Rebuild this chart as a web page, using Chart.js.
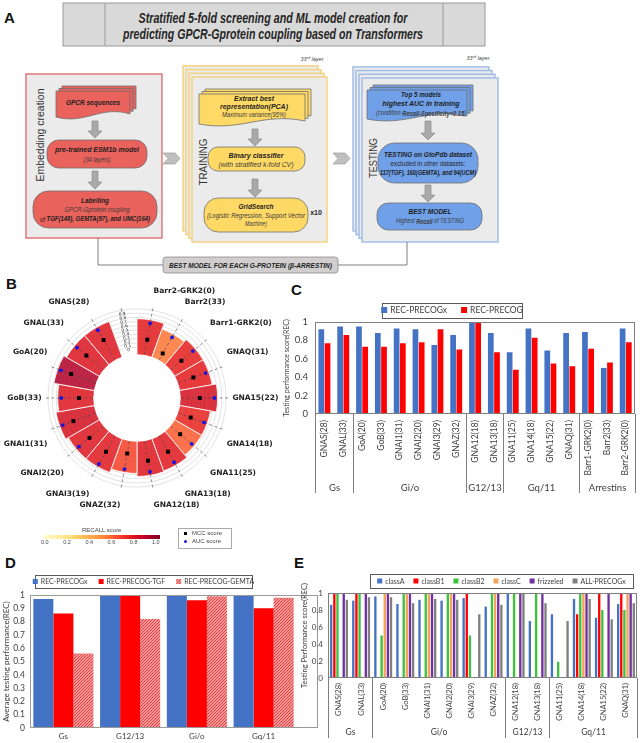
<!DOCTYPE html>
<html>
<head>
<meta charset="utf-8">
<script src="https://cdn.jsdelivr.net/npm/chart.js@4.4.0/dist/chart.umd.min.js"></script>
<style>
  body { margin: 0; width: 642px; height: 743px; position: relative; background: #fff; overflow: hidden;
         font-family: 'Liberation Sans', Arial, sans-serif; }
  canvas { position: absolute; }
  .panel { position: absolute; font-weight: bold; font-size: 15px; color: #111; }
  .small { position: absolute; font-family: 'Liberation Sans', Arial, sans-serif; color: #444; white-space: nowrap; }
</style>
</head>
<body>
<svg id="panelA" width="642" height="280" style="position:absolute;left:0;top:0"></svg>

<div class="panel" style="left:4px;top:9px">A</div>
<div class="panel" style="left:6px;top:275px">B</div>
<div class="panel" style="left:291px;top:281px">C</div>
<div class="panel" style="left:5px;top:554px">D</div>
<div class="panel" style="left:294px;top:554px">E</div>

<canvas id="polarBars" width="340" height="242" style="left:-33px;top:278px"></canvas>
<canvas id="polarDots" width="340" height="242" style="left:-33px;top:278px"></canvas>

<!-- colour bar + marker legend of panel B -->
<div class="small" style="left:82px;top:527px;font-size:6px">RECALL score</div>
<div id="cbar" style="position:absolute;left:44px;top:535px;width:116px;height:4px"></div>
<div id="cbarTicks"></div>
<div style="position:absolute;left:178px;top:528px;width:52px;height:19px;border:1px solid #aaa"></div>
<div style="position:absolute;left:184px;top:532px;width:3px;height:3px;background:#000"></div>
<div class="small" style="left:192px;top:530px;font-size:6px">MCC score</div>
<div style="position:absolute;left:184px;top:540px;width:3px;height:3px;border-radius:50%;background:#1515e0"></div>
<div class="small" style="left:192px;top:538px;font-size:6px">AUC score</div>

<canvas id="chartC" width="364" height="212" style="left:278px;top:296px"></canvas>
<canvas id="chartD" width="320" height="181" style="left:0px;top:562px"></canvas>
<canvas id="chartE" width="342" height="181" style="left:300px;top:562px"></canvas>

<script>
// ---------------- data ----------------
// B: radial bar plot, clockwise from the empty slot at the top
const labelsB = ['', 'Barr2-GRK2(0)', 'Barr2(33)', 'Barr1-GRK2(0)', 'GNAQ(31)', 'GNA15(22)', 'GNA14(18)',
  'GNA11(25)', 'GNA13(18)', 'GNA12(18)', 'GNAZ(32)', 'GNAI3(19)', 'GNAI2(20)', 'GNAI1(31)', 'GoB(33)',
  'GoA(20)', 'GNAL(33)', 'GNAS(28)'];
const barB    = [null, 0.67, 0.53, 0.60, 0.60, 0.70, 0.56, 0.56, 0.63, 0.65, 0.58, 0.67, 0.67, 0.74, 0.67, 0.79, 0.72, 0.72];
const mccB    = [null, 0.26, 0.07, 0.23, 0.28, 0.35, 0.21, 0.19, 0.33, 0.37, 0.19, 0.33, 0.33, 0.47, 0.23, 0.53, 0.43, 0.45];
const aucB    = [null, 0.67, 0.53, 0.60, 0.60, 0.71, 0.56, 0.56, 0.63, 0.65, 0.58, 0.68, 0.67, 0.75, 0.67, 0.80, 0.73, 0.73];
const recallB = [null, 0.75, 0.55, 0.74, 0.75, 0.80, 0.73, 0.60, 0.76, 0.77, 0.66, 0.76, 0.77, 0.80, 0.77, 0.90, 0.78, 0.77];
const cbarTicks = ['0.0', '0.2', '0.4', '0.6', '0.8', '1.0'];

// C
const labelsC = ['GNAS(28)', 'GNAL(33)', 'GoA(20)', 'GoB(33)', 'GNAI1(31)', 'GNAI2(20)', 'GNAI3(29)', 'GNAZ(32)',
  'GNA12(18)', 'GNA13(18)', 'GNA11(25)', 'GNA14(18)', 'GNA15(22)', 'GNAQ(31)', 'Barr1-GRK2(0)', 'Barr2(33)', 'Barr2-GRK2(0)'];
const precogxC = [0.92, 0.95, 0.95, 0.88, 0.93, 0.92, 0.75, 0.86, 1.00, 0.88, 0.67, 0.93, 0.69, 0.88, 0.89, 0.50, 0.93];
const precogC  = [0.77, 0.86, 0.73, 0.73, 0.77, 0.78, 0.92, 0.70, 1.00, 0.67, 0.48, 0.83, 0.55, 0.52, 0.71, 0.56, 0.78];
const groupsC = ['Gs', 'Gi/o', 'G12/13', 'Gq/11', 'Arrestins'];
const groupSizesC = [2, 6, 2, 4, 3];

// D
const labelsD = ['Gs', 'G12/13', 'Gi/o', 'Gq/11'];
const precogxD = [0.97, 1.00, 1.00, 1.00];
const tgfD     = [0.86, 1.00, 0.96, 0.90];
const gemtaD   = [0.56, 0.82, 0.99, 0.98];

// E
const labelsE = ['GNAS(28)', 'GNAL(33)', 'GoA(20)', 'GoB(33)', 'GNAI1(31)', 'GNAI2(20)', 'GNAI3(29)', 'GNAZ(32)',
  'GNA12(18)', 'GNA13(18)', 'GNA11(25)', 'GNA14(18)', 'GNA15(22)', 'GNAQ(31)'];
const classA    = [0.86, 0.91, 0.96, 0.87, 0.92, 0.91, 0.94, 0.84, 1.00, 0.67, 0.75, 0.93, 0.71, 0.87];
const classB1   = [1, 1, null, null, null, null, 1, null, null, null, null, 0.75, 1, 1];
const classB2   = [1, 1, 0.50, 1, 1, 1, 0.50, 1, 1, 1, 0.19, 1, 0.80, 0.80];
const classC    = [null, null, 1, 1, 1, 1, null, 1, null, null, null, 1, null, 1];
const frizzeled = [1, 1, 1, 1, 1, 1, null, 1, 1, 1, null, 1, 1, 1];
const allPrecogxE = [0.92, 0.95, 0.95, 0.88, 0.93, 0.92, 0.75, 0.86, 1.00, 0.88, 0.67, 0.93, 0.69, 0.88];
const groupsE = ['Gs', 'Gi/o', 'G12/13', 'Gq/11'];
const groupSizesE = [2, 6, 2, 4];

// ---------------- panel A (flow diagram) ----------------
const svg = [];
svg.push(`<style>
 text{font-family:'Liberation Sans',Arial,sans-serif;text-anchor:middle;dominant-baseline:central;fill:#1e1e1e}
 .ttl{font-weight:bold;font-style:italic;font-size:14px;fill:#262626}
 .bi{font-weight:bold;font-style:italic;font-size:8px}
 .it{font-style:italic;font-size:7px;fill:#3a3a3a}
 .rg{font-size:7px;fill:#2a2a2a}
 .side{font-size:11.5px;fill:#333}
 .sm{font-style:italic;font-size:5.5px;fill:#444}
 .sh{stroke:#6f6f6f;stroke-width:.8}
 .ar{fill:#a9a9a9;stroke:#8c8c8c;stroke-width:.7}
</style>`);
const rect = (x, y, w, h, fill, stroke, sw, rx) =>
  svg.push(`<rect x="${x}" y="${y}" width="${w}" height="${h}" rx="${rx || 0}" fill="${fill}" stroke="${stroke}" stroke-width="${sw}"/>`);
const stack = (x, y, w, h, stroke) => { for (let k = 3; k >= 0; k--) rect(x - 3 * k, y - 3.7 * k, w, h, '#ebebeb', stroke, 1.4); };
const docShape = (x, y, w, h, fill) => {
  for (let k = 2; k >= 0; k--) {
    const X = x + 3 * k, Y = y - 2.5 * k;
    svg.push(`<path d="M${X},${Y}H${X + w}V${Y + h - 5}C${X + w * 0.6},${Y + h - 14} ${X + w * 0.4},${Y + h + 6} ${X},${Y + h - 2}Z" fill="${fill}" class="sh"/>`);
  }
};
const pill = (x, y, w, h, fill) => rect(x, y, w, h, fill, '#6f6f6f', 0.8, h * 0.42);
const arrow = (x, y1, y2) =>
  svg.push(`<path d="M${x - 3},${y1}H${x + 3}V${y2 - 7}H${x + 7}L${x},${y2}L${x - 7},${y2 - 7}H${x - 3}Z" class="ar"/>`);
const chevron = (x, y) =>
  svg.push(`<path d="M${x},${y}H${x + 12}L${x + 17},${y + 5.5}L${x + 12},${y + 11}H${x}L${x + 5},${y + 5.5}Z" fill="#bfbfbf" stroke="#9c9c9c" stroke-width=".7"/>`);
const txt = (x, y, s, cls, len) =>
  svg.push(`<text x="${x}" y="${y}" class="${cls}"${len ? ` textLength="${len}" lengthAdjust="spacingAndGlyphs"` : ''}>${s}</text>`);
const vtxt = (x, y, s, len) =>
  svg.push(`<text x="${x}" y="${y}" class="side" transform="rotate(-90 ${x} ${y})" textLength="${len}" lengthAdjust="spacingAndGlyphs">${s}</text>`);

// title
rect(63, 3, 422, 43, '#d9d9d9', '#9a9a9a', 1);
svg.push('<path d="M105 3V46M443 3V46" stroke="#9a9a9a"/>');
txt(273, 18, 'Stratified 5-fold screening and  ML model creation for', 'ttl', 269);
txt(273, 34, 'predicting GPCR-Gprotein coupling based on Transformers', 'ttl', 300);

// embedding creation
rect(26, 74, 136, 164, '#ebebeb', '#e06666', 1.3);
vtxt(40, 135, 'Embedding creation', 93);
docShape(56, 91, 74, 28, '#e9625c');
txt(93, 102, 'GPCR sequences', 'bi', 54);
arrow(95, 121, 138);
pill(47, 140, 100, 28, '#e9625c');
txt(97, 149, 'pre-trained ESM1b  model', 'bi', 84);
txt(97, 159, '(34 layers)', 'it', 27);
arrow(95, 171, 189);
pill(33, 191, 124, 37, '#e9625c');
txt(95, 200, 'Labelling', 'bi', 28);
txt(97, 209, 'GPCR-Gprotein coupling', 'it', 65);
txt(95, 218.5, '<tspan font-weight="normal">of </tspan>TGF(148), GEMTA(97), and UMC(164)', 'bi', 110);
chevron(163, 153);

// training
stack(192, 77, 135, 165, '#f3d27a');
svg.push('<text x="312" y="59" class="sm">33<tspan font-size="3.8" dy="-1.5">rd</tspan><tspan dy="1.5"> layer</tspan></text>');
vtxt(203, 162, 'TRAINING', 47);
docShape(199, 94, 106, 32, '#ffd966');
txt(254, 98.5, 'Extract best', 'bi', 40);
txt(254, 106.5, 'representation(PCA)', 'bi', 68);
txt(254, 114.5, 'Maximum variance(95%)', 'it', 64);
arrow(255, 129, 146);
pill(208, 147, 97, 24, '#ffd966');
txt(256, 155.5, 'Binary classifier', 'bi', 55);
txt(256, 164.5, '(with stratified k-fold CV)', 'it', 75);
arrow(255, 179, 197);
pill(204, 198, 104, 34, '#ffd966');
txt(256, 206, 'GridSearch', 'bi', 35);
txt(256, 215, '(Logistic Regression, Support Vector', 'it', 98);
txt(256, 223.5, 'Machine)', 'it', 22);
svg.push('<text x="316" y="212" style="font-weight:bold;font-size:7px">x10</text>');
chevron(333, 153);

// testing
stack(362, 78, 136, 164, '#9dbbe6');
svg.push('<text x="478" y="58" class="sm">33<tspan font-size="3.8" dy="-1.5">rd</tspan><tspan dy="1.5"> layer</tspan></text>');
vtxt(373, 158, 'TESTING', 40);
docShape(367, 90, 100, 31, '#6fa0e8');
txt(421, 94.5, 'Top 5 models', 'bi', 40);
txt(421, 103.5, 'highest AUC in  training', 'bi', 77);
txt(421, 112.5, '(condition <tspan font-weight="bold">Recall-Specificity&lt;0.15</tspan>)', 'it', 90);
arrow(428, 121, 140);
pill(378, 143, 100, 40, '#6fa0e8');
txt(428, 154, 'TESTING on GtoPdb dataset', 'bi', 88);
txt(428, 163, 'excluded in other datasets:', 'rg', 75);
txt(428, 172, '117(TGF), 160(GEMTA), and 94(UCM)', 'bi', 96);
arrow(428, 185, 202);
pill(377, 203, 105, 27, '#6fa0e8');
txt(430, 211, 'BEST MODEL', 'bi', 43);
txt(430, 220.5, 'Highest <tspan font-weight="bold">Recall</tspan> of TESTING', 'it', 68);

// connector to the final box
svg.push('<path d="M98,238V265H163M338,265H407V242" fill="none" stroke="#7f7f7f" stroke-width="1"/>');
rect(163, 257, 175, 16, '#d0cece', '#8c8c8c', 0.8, 3);
txt(250.5, 265.5, 'BEST MODEL FOR EACH G-PROTEIN (β-ARRESTIN)', 'bi', 163);
document.getElementById('panelA').innerHTML = svg.join('');

// ---------------- helpers ----------------
Chart.defaults.font.family = 'Lato';
Chart.defaults.color = '#404040';
Chart.defaults.animation = false;

const YLORRD = ['#ffffcc', '#ffeda0', '#fed976', '#feb24c', '#fd8d3c', '#fc4e2a', '#e31a1c', '#bd0026', '#800026'];
function cmap(v, a) {
  const t = Math.max(0, Math.min(1, v)) * 8;
  const i = Math.min(7, Math.floor(t)), f = t - i;
  const h = s => [1, 3, 5].map(k => parseInt(s.substr(k, 2), 16));
  const c1 = h(YLORRD[i]), c2 = h(YLORRD[i + 1]);
  const c = c1.map((c, k) => Math.round(c + (c2[k] - c) * f));
  return `rgba(${c[0]},${c[1]},${c[2]},${a})`;
}
document.getElementById('cbar').style.background = `linear-gradient(to right, ${YLORRD.join(',')})`;
document.getElementById('cbarTicks').innerHTML = cbarTicks.map((t, i) =>
  `<div class="small" style="left:${41 + i * 22.2}px;top:539px;font-size:5.5px">${t}</div>`).join('');

const fmt = v => String(+Number(v).toFixed(1));

const framePlugin = {
  id: 'frame',
  afterDatasetsDraw(chart, args, o) {
    const { ctx, chartArea: a } = chart;
    ctx.save();
    ctx.strokeStyle = o.color || '#7f7f7f';
    ctx.lineWidth = 1;
    ctx.strokeRect(Math.round(a.left) + 0.5, Math.round(a.top) + 0.5,
      Math.round(a.width + (o.extendRight || 0)) - 1, Math.round(a.height) - 1);
    ctx.restore();
  }
};

const groupPlugin = {
  id: 'groups',
  afterDraw(chart, args, o) {
    if (!o.names) return;
    const { ctx, chartArea: a } = chart, x = chart.scales.x;
    const edge = i => Math.round(x.getPixelForValue(i - 0.5)) + 0.5;
    ctx.save();
    ctx.strokeStyle = '#7f7f7f';
    ctx.lineWidth = 1;
    ctx.fillStyle = '#404040';
    ctx.font = `${o.size}px Lato`;
    ctx.textAlign = 'center';
    ctx.textBaseline = 'middle';
    ctx.beginPath();
    ctx.moveTo(edge(0), a.bottom);
    ctx.lineTo(edge(0), a.bottom + o.len);
    let start = 0;
    o.names.forEach((n, g) => {
      const end = start + o.sizes[g];
      ctx.moveTo(edge(end), a.bottom);
      ctx.lineTo(edge(end), a.bottom + o.len);
      ctx.fillText(n, (edge(start) + edge(end)) / 2, a.bottom + o.labelY);
      start = end;
    });
    ctx.stroke();
    ctx.restore();
  }
};

const boxLegend = {
  id: 'boxLegend',
  afterDraw(chart, args, o) {
    if (o.cx === undefined) return;
    const ctx = chart.ctx;
    ctx.save();
    ctx.font = `${o.size}px Lato`;
    ctx.textBaseline = 'middle';
    const items = chart.data.datasets.map(d => ({ t: d.label, c: d.backgroundColor, w: ctx.measureText(d.label).width }));
    const sq = o.sq, gap = o.gap;
    const total = items.reduce((s, it) => s + sq + 3 + it.w, 0) + gap * (items.length - 1);
    const left = o.cx - o.w / 2, top = o.cy - o.h / 2;
    ctx.strokeStyle = '#595959';
    ctx.lineWidth = 1;
    ctx.strokeRect(Math.round(left) + 0.5, Math.round(top) + 0.5, Math.round(o.w), Math.round(o.h));
    let x = o.cx - total / 2;
    items.forEach(it => {
      ctx.fillStyle = it.c;
      ctx.fillRect(x, o.cy - sq / 2, sq, sq);
      ctx.fillStyle = '#404040';
      ctx.fillText(it.t, x + sq + 3, o.cy + 0.5);
      x += sq + 3 + it.w + gap;
    });
    ctx.restore();
  }
};

const holePlugin = {
  id: 'hole',
  beforeDatasetsDraw(chart) {
    const s = chart.scales.r, ctx = chart.ctx;
    ctx.save();
    ctx.fillStyle = '#fff';
    ctx.beginPath();
    ctx.arc(s.xCenter, s.yCenter, s.getDistanceFromCenterForValue(-0.12), 0, Math.PI * 2);
    ctx.fill();
    ctx.restore();
  }
};

// labels padded with blank lines so that top/bottom names sit further out, as in the original
const ringLabels = labelsB.map(s => ['', s, '']);
const pointLabelFont = { family: 'DejaVu Sans', size: 7.5, weight: 'bold', lineHeight: 1.2 };
const noPlugins = { legend: { display: false }, tooltip: { enabled: false } };

// ---------------- B ----------------
new Chart(document.getElementById('polarBars'), {
  type: 'polarArea',
  data: {
    labels: ringLabels,
    datasets: [{ data: barB, backgroundColor: recallB.map(v => cmap(v || 0, 0.85)), borderColor: '#fff', borderWidth: 0.8 }]
  },
  options: {
    responsive: false,
    plugins: noPlugins,
    layout: { padding: 0 },
    scales: {
      r: {
        min: -1.2, max: 1.05, startAngle: -20,
        ticks: { display: false, stepSize: 0.1, maxTicksLimit: 40, showLabelBackdrop: false },
        grid: { circular: true, lineWidth: 0.7,
          color: c => (c.tick && c.tick.value > -0.001 && c.tick.value < 1.001) ? '#d6d6d6' : 'transparent' },
        angleLines: { display: false },
        pointLabels: { display: true, centerPointLabels: true, padding: 0, font: pointLabelFont, color: 'transparent' }
      }
    }
  }
});

new Chart(document.getElementById('polarDots'), {
  type: 'radar',
  data: {
    labels: ringLabels,
    datasets: [
      { label: 'MCC score', data: mccB, showLine: false, fill: false, pointStyle: 'rect', pointRadius: 2.8,
        pointBorderWidth: 0, pointBackgroundColor: '#000', borderWidth: 0 },
      { label: 'AUC score', data: aucB, showLine: false, fill: false, pointStyle: 'circle', pointRadius: 1.9,
        pointBorderWidth: 0, pointBackgroundColor: '#1515e0', borderWidth: 0 }
    ]
  },
  options: {
    responsive: false,
    plugins: noPlugins,
    layout: { padding: 0 },
    scales: {
      r: {
        min: -1.2, max: 1.05, startAngle: -10,
        ticks: { stepSize: 0.1, maxTicksLimit: 40, showLabelBackdrop: false, color: '#333',
          font: { family: 'DejaVu Sans', size: 4.4, lineHeight: 1 },
          callback: v => (v > -0.001 && v < 1.001) ? fmt(v) : '' },
        grid: { display: false },
        angleLines: { display: true, lineWidth: 0.8, borderDash: [3, 2.5],
          color: c => c.index === 0 ? 'transparent' : 'rgba(70,70,70,0.75)' },
        pointLabels: { display: true, padding: 0, font: pointLabelFont, color: '#222' }
      }
    }
  },
  plugins: [holePlugin]
});

// ---------------- C ----------------
new Chart(document.getElementById('chartC'), {
  type: 'bar',
  data: {
    labels: labelsC,
    datasets: [
      { label: 'REC-PRECOGx', data: precogxC, backgroundColor: '#4472c4' },
      { label: 'REC-PRECOG', data: precogC, backgroundColor: '#ff0000' }
    ]
  },
  options: {
    responsive: false,
    layout: { padding: { top: 26, right: 3, left: 0, bottom: 0 } },
    datasets: { bar: { categoryPercentage: 0.66, barPercentage: 0.92 } },
    plugins: {
      legend: { display: false }, tooltip: { enabled: false },
      boxLegend: { cx: 174, cy: 14, w: 140, h: 15, size: 8.5, sq: 6, gap: 14 },
      groups: { names: groupsC, sizes: groupSizesC, len: 79, labelY: 74, size: 9.5 }
    },
    scales: {
      x: {
        grid: { display: false, drawTicks: false }, border: { display: false },
        ticks: { autoSkip: false, minRotation: 90, maxRotation: 90, padding: 6, font: { size: 8.5 } },
        afterFit: s => { s.height = 94; }
      },
      y: {
        min: 0, max: 1,
        grid: { display: false, drawTicks: false }, border: { display: false },
        ticks: { stepSize: 0.1, padding: 7, font: { size: 9.5 }, callback: fmt },
        title: { display: true, text: 'Testing performance score(REC)', font: { size: 7 }, padding: { top: 5, bottom: 0 } },
        afterFit: s => { s.width = 37; }
      }
    }
  },
  plugins: [framePlugin, groupPlugin, boxLegend]
});

// ---------------- D ----------------
function hatch() {
  const c = document.createElement('canvas');
  c.width = c.height = 3;
  const g = c.getContext('2d');
  g.fillStyle = '#f6bcbc';
  g.fillRect(0, 0, 3, 3);
  g.strokeStyle = '#e63a3a';
  g.lineWidth = 1.1;
  g.beginPath();
  g.moveTo(0, 3); g.lineTo(3, 0);
  g.moveTo(-1, 1); g.lineTo(1, -1);
  g.moveTo(2, 4); g.lineTo(4, 2);
  g.stroke();
  return g.createPattern(c, 'repeat');
}

new Chart(document.getElementById('chartD'), {
  type: 'bar',
  data: {
    labels: labelsD,
    datasets: [
      { label: 'REC-PRECOGx', data: precogxD, backgroundColor: '#4472c4' },
      { label: 'REC-PRECOG-TGF', data: tgfD, backgroundColor: '#ff0000' },
      { label: 'REC-PRECOG-GEMTA', data: gemtaD, backgroundColor: hatch() }
    ]
  },
  options: {
    responsive: false,
    layout: { padding: { top: 33, right: 23, left: 0, bottom: 0 } },
    datasets: { bar: { categoryPercentage: 0.9, barPercentage: 1.0 } },
    plugins: {
      legend: { display: false }, tooltip: { enabled: false },
      boxLegend: { cx: 143.5, cy: 19.5, w: 217, h: 13, size: 7, sq: 5, gap: 11 },
      frame: { extendRight: 21, color: '#9a9a9a' }
    },
    scales: {
      x: {
        grid: { display: false, drawTicks: false }, border: { display: false },
        ticks: { padding: 4, font: { size: 8 } },
        afterFit: s => { s.height = 15; }
      },
      y: {
        min: 0, max: 1,
        grid: { display: false, drawTicks: false }, border: { display: false },
        ticks: { stepSize: 0.1, padding: 5, font: { size: 8.5 }, callback: fmt },
        title: { display: true, text: 'Average testing performance(REC)', font: { size: 8 }, padding: { top: 2, bottom: 0 } },
        afterFit: s => { s.width = 30; }
      }
    }
  },
  plugins: [framePlugin, boxLegend]
});

// ---------------- E ----------------
new Chart(document.getElementById('chartE'), {
  type: 'bar',
  data: {
    labels: labelsE,
    datasets: [
      { label: 'classA', data: classA, backgroundColor: '#4472c4' },
      { label: 'classB1', data: classB1, backgroundColor: '#ff0000' },
      { label: 'classB2', data: classB2, backgroundColor: '#3cc23c' },
      { label: 'classC', data: classC, backgroundColor: '#f5a35a' },
      { label: 'frizzeled', data: frizzeled, backgroundColor: '#7030a0' },
      { label: 'ALL-PRECOGx', data: allPrecogxE, backgroundColor: '#7f7f7f' }
    ]
  },
  options: {
    responsive: false,
    layout: { padding: { top: 31, right: 5, left: 0, bottom: 0 } },
    datasets: { bar: { categoryPercentage: 0.85, barPercentage: 0.75 } },
    plugins: {
      legend: { display: false }, tooltip: { enabled: false },
      boxLegend: { cx: 201.5, cy: 19, w: 263, h: 14, size: 7, sq: 5, gap: 9 },
      groups: { names: groupsE, sizes: groupSizesE, len: 60, labelY: 54, size: 8.5 }
    },
    scales: {
      x: {
        grid: { display: false, drawTicks: false }, border: { display: false },
        ticks: { autoSkip: false, minRotation: 90, maxRotation: 90, padding: 5, font: { size: 7.5 } },
        afterFit: s => { s.height = 65; }
      },
      y: {
        min: 0, max: 1,
        grid: { display: false, drawTicks: false }, border: { display: false },
        ticks: { stepSize: 0.1, padding: 5, font: { size: 8 }, callback: fmt },
        title: { display: true, text: 'Testing Performance score(REC)', font: { size: 7.5 }, padding: { top: 0, bottom: 0 } },
        afterFit: s => { s.width = 28; }
      }
    }
  },
  plugins: [framePlugin, groupPlugin, boxLegend]
});
</script>
</body>
</html>
